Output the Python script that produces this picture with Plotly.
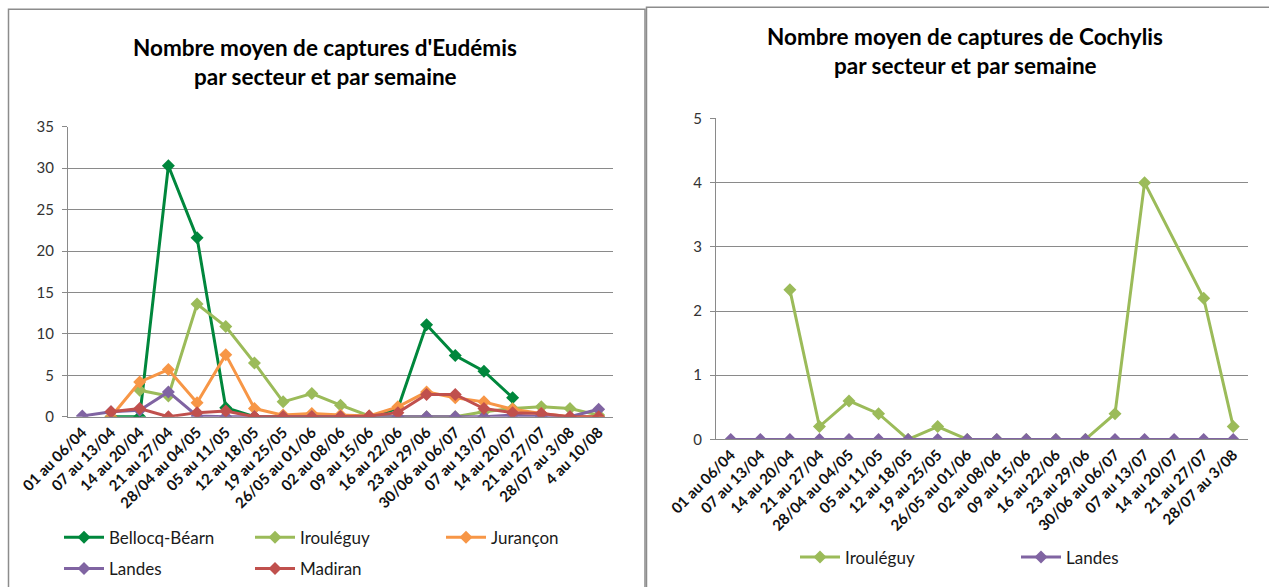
import plotly.graph_objects as go

W, H = 1269, 587

# ---------------- data ----------------
weeks_left = ["01 au 06/04", "07 au 13/04", "14 au 20/04", "21 au 27/04", "28/04 au 04/05",
              "05 au 11/05", "12 au 18/05", "19 au 25/05", "26/05 au 01/06", "02 au 08/06",
              "09 au 15/06", "16 au 22/06", "23 au 29/06", "30/06 au 06/07", "07 au 13/07",
              "14 au 20/07", "21 au 27/07", "28/07 au 3/08", "4 au 10/08"]

eud_bellocq = [None, 0, 0, 30.3, 21.6, 1.1, 0, 0, 0, 0, 0, 1.0, 11.1, 7.4, 5.5, 2.3, None, None, None]
eud_irouleguy = [None, None, 3.2, 2.5, 13.6, 10.9, 6.5, 1.8, 2.8, 1.4, 0.1, 0, 0, 0, 0.6, 1.0, 1.2, 1.0, 0.2]
eud_jurancon = [None, 0, 4.2, 5.7, 1.7, 7.5, 1.0, 0.2, 0.4, 0.2, 0.1, 1.2, 3.0, 2.3, 1.8, 0.9, 0.4, 0, 0]
eud_landes = [0.1, 0.6, 0.8, 3.0, 0.1, 0, 0, 0, 0, 0, 0, 0, 0, 0, 0, 0.2, 0, 0, 0.9]
eud_madiran = [None, 0.6, 1.0, 0, 0.5, 0.7, 0, 0, 0, 0, 0.1, 0.5, 2.7, 2.7, 1.0, 0.5, 0.4, 0, 0]

weeks_right = ["01 au 06/04", "07 au 13/04", "14 au 20/04", "21 au 27/04", "28/04 au 04/05",
               "05 au 11/05", "12 au 18/05", "19 au 25/05", "26/05 au 01/06", "02 au 08/06",
               "09 au 15/06", "16 au 22/06", "23 au 29/06", "30/06 au 06/07", "07 au 13/07",
               "14 au 20/07", "21 au 27/07", "28/07 au 3/08"]

coc_irouleguy = [None, None, 2.33, 0.2, 0.6, 0.4, 0, 0.2, 0, 0, 0, 0, 0, 0.4, 4.0, None, 2.2, 0.2]
coc_landes = [0, 0, 0, 0, 0, 0, 0, 0, 0, 0, 0, 0, 0, 0, 0, 0, 0, 0]

title_left = ["Nombre moyen de captures d'Eudémis", "par secteur et par semaine"]
title_right = ["Nombre moyen de captures de Cochylis", "par secteur et par semaine"]

# ---------------- style ----------------
C_BELLOCQ = "#00873C"
C_IROU = "#9BBB59"
C_JUR = "#F79646"
C_LANDES = "#8064A2"
C_MADIRAN = "#C0504D"
GRID = "#8a8a8a"
FONT = "Lato"

def px_x(v):
    return v / W

def px_y(v):
    return 1 - v / H

fig = go.Figure()

def add(x, y, name, color, xa, ya, leg, gaps=False):
    fig.add_trace(go.Scatter(
        x=x, y=y, name=name, mode="lines+markers",
        line=dict(color=color, width=3),
        marker=dict(symbol="diamond", size=10, color=color),
        xaxis=xa, yaxis=ya, legend=leg, connectgaps=gaps,
        hoverinfo="skip"))

add(weeks_left, eud_bellocq, "Bellocq-Béarn", C_BELLOCQ, "x", "y", "legend")
add(weeks_left, eud_irouleguy, "Irouléguy", C_IROU, "x", "y", "legend")
add(weeks_left, eud_jurancon, "Jurançon", C_JUR, "x", "y", "legend")
add(weeks_left, eud_landes, "Landes", C_LANDES, "x", "y", "legend2")
add(weeks_left, eud_madiran, "Madiran", C_MADIRAN, "x", "y", "legend2")

add(weeks_right, coc_irouleguy, "Irouléguy", C_IROU, "x2", "y2", "legend3", gaps=True)
add(weeks_right, coc_landes, "Landes", C_LANDES, "x2", "y2", "legend3")

xtick = dict(family=FONT, size=15, color="#111111", weight="bold")
ytick = dict(family=FONT, size=15, color="#333333")

def xaxis(domain, cats, anchor):
    return dict(domain=domain, type="category", categoryorder="array", categoryarray=cats,
                range=[-0.5, len(cats) - 0.5], tickangle=-45, showgrid=False,
                showline=True, linecolor=GRID, linewidth=1, ticks="", tickfont=xtick,
                anchor=anchor, fixedrange=True, automargin=False)

def yaxis(domain, rng, dtick, anchor):
    return dict(domain=domain, range=rng, dtick=dtick, showgrid=True, gridcolor=GRID,
                gridwidth=1, showline=True, linecolor=GRID, linewidth=1, ticks="outside",
                ticklen=5, tickcolor=GRID, tickfont=ytick, zeroline=False, anchor=anchor,
                fixedrange=True, automargin=False, ticklabelstandoff=5)

legfont = dict(family=FONT, size=17, color="#1a1a1a")

def legend(x, y, ew):
    return dict(orientation="h", x=x, y=y, xanchor="left", yanchor="middle",
                entrywidth=ew, entrywidthmode="pixels", font=legfont,
                bgcolor="rgba(0,0,0,0)", itemwidth=40, tracegroupgap=0)

fig.update_layout(
    width=W, height=H, margin=dict(l=0, r=0, t=0, b=0),
    paper_bgcolor="white", plot_bgcolor="white",
    xaxis=xaxis([px_x(68), px_x(613)], weeks_left, "y"),
    yaxis=yaxis([px_y(424), px_y(129)], [0, 35], 5, "x"),
    xaxis2=xaxis([px_x(716), px_x(1248)], weeks_right, "y2"),
    yaxis2=yaxis([px_y(447), px_y(120.5)], [0, 5], 1, "x2"),
    legend=legend(px_x(59), px_y(547), 136),
    legend2=legend(px_x(59), px_y(579), 136),
    legend3=legend(px_x(795), px_y(567), 166),
    showlegend=True,
)

tfont = dict(family=FONT, size=22.5, color="#000000", weight="bold")
anns = []
for txt, yy in zip(title_left, [48, 78]):
    anns.append(dict(text=txt, x=px_x(325), y=px_y(yy), xref="paper", yref="paper",
                     showarrow=False, xanchor="center", yanchor="middle", font=tfont))
for txt, yy in zip(title_right, [37, 67]):
    anns.append(dict(text=txt, x=px_x(965), y=px_y(yy), xref="paper", yref="paper",
                     showarrow=False, xanchor="center", yanchor="middle", font=tfont))
fig.update_layout(annotations=anns)

border = dict(color="#8c8c8c", width=1.5)
fig.update_layout(shapes=[
    dict(type="rect", xref="paper", yref="paper", x0=px_x(8.5), x1=px_x(645), y0=-0.05,
         y1=px_y(9.5), line=border, layer="below"),
    dict(type="rect", xref="paper", yref="paper", x0=px_x(646.5), x1=1.05, y0=-0.05,
         y1=px_y(7.5), line=border, layer="below"),
])

fig.write_html("out.html", config={"displayModeBar": False, "staticPlot": True},
               post_script="document.body.style.margin='0';document.body.style.overflow='hidden';")
